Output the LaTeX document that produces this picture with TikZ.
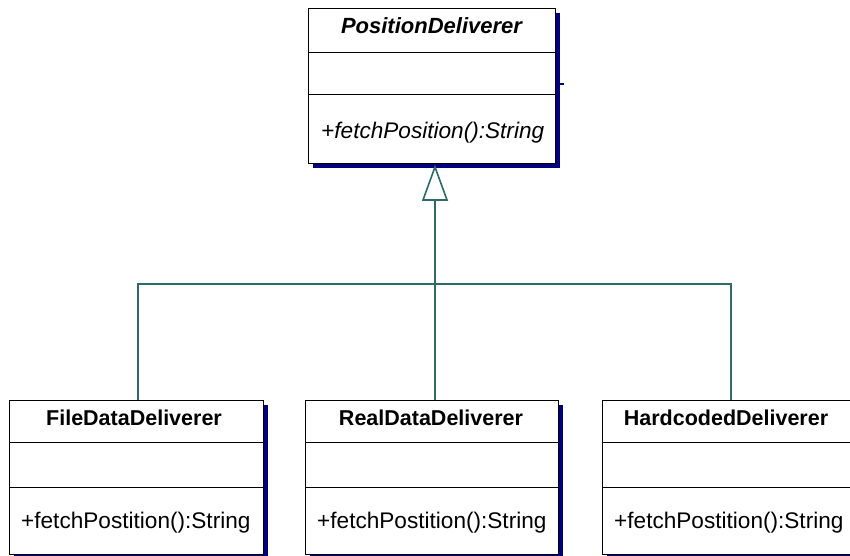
\documentclass[tikz,border=0pt]{standalone}
\usepackage{fontspec}
\setmainfont{Liberation Sans}
\usetikzlibrary{calc}
\definecolor{navy}{HTML}{00007F}
\definecolor{teal}{HTML}{2E6A6A}
\begin{document}
\begin{tikzpicture}[x=1pt,y=-1pt,
  classbox/.style={draw=black,line width=1.1pt,fill=white,anchor=north west,inner sep=0pt},
  shadowbox/.style={fill=navy,draw=none},
  divider/.style={draw=black,line width=1pt},
  title/.style={font=\fontsize{21.5}{24}\selectfont\bfseries,anchor=base,inner sep=0pt},
  atitle/.style={font=\fontsize{22}{24}\selectfont\bfseries\itshape,anchor=base,inner sep=0pt},
  method/.style={font=\fontsize{22.6}{24}\selectfont,anchor=base west,inner sep=0pt},
  amethod/.style={font=\fontsize{22.6}{24}\selectfont\itshape,anchor=base west,inner sep=0pt},
  conn/.style={draw=teal,line width=1.6pt},
  inherit/.style={draw=teal,line width=1.6pt,fill=white,line join=miter}]
\useasboundingbox (0,0) rectangle (850,555);
% --- top abstract class
\fill[shadowbox] (313,13) rectangle (560,168);
\node[classbox,minimum width=247pt,minimum height=155pt] (pd) at (308,8) {};
\draw[divider] (308,52) -- (555,52);
\draw[divider] (308,94) -- (555,94);
\draw[navy,line width=1.2pt] (560,84) -- (564,84);
\node[atitle] (pdt) at (431.5,33) {PositionDeliverer};
\node[amethod] (pdm) at (321,138) {+fetchPosition():String};
% --- bottom classes
\fill[shadowbox] (14,405) rectangle (268,559);
\node[classbox,minimum width=254pt,minimum height=154pt] (fd) at (9,400) {};
\draw[divider] (9,442) -- (263,442);
\draw[divider] (9,487) -- (263,487);
\node[title] (fdt) at (134,425) {FileDataDeliverer};
\node[method] (fdm) at (21,528) {+fetchPostition():String};

\fill[shadowbox] (310,405) rectangle (563,559);
\node[classbox,minimum width=253pt,minimum height=154pt] (rd) at (305,400) {};
\draw[divider] (305,442) -- (558,442);
\draw[divider] (305,487) -- (558,487);
\node[title] (rdt) at (431,425) {RealDataDeliverer};
\node[method] (rdm) at (317,528) {+fetchPostition():String};

\fill[shadowbox] (607,405) rectangle (862,559);
\node[classbox,minimum width=254pt,minimum height=154pt] (hd) at (602,400) {};
\draw[divider] (602,442) -- (856,442);
\draw[divider] (602,487) -- (856,487);
\node[title] (hdt) at (726,425) {HardcodedDeliverer};
\node[method] (hdm) at (614,528) {+fetchPostition():String};
% --- generalization
\coordinate (tip) at (435,167);
\coordinate (base) at (435,200);
\coordinate (bus) at (435,284);
\draw[conn] (base) -- (bus);
\draw[conn] (fd.north -| 138,0) |- (bus) -| (hd.north -| 731,0);
\draw[conn] (bus) -- (rd.north -| 435,0);
\draw[inherit] (tip) -- (447,200) -- (423,200) -- cycle;
\end{tikzpicture}
\end{document}
